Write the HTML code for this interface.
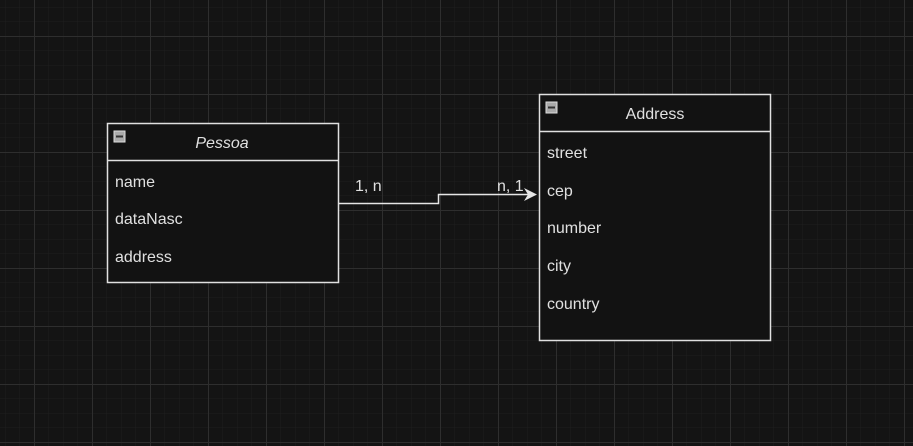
<!DOCTYPE html>
<html><head><style>
html,body{margin:0;padding:0;background:#141414;}
svg{display:block}
text{font-family:"Liberation Sans",sans-serif;font-size:16px;fill:#e0e0e0}
</style></head><body>
<svg width="913" height="446" viewBox="0 0 913 446">
<defs>
<pattern id="minor" x="5" y="7" width="14.5" height="14.5" patternUnits="userSpaceOnUse">
<path d="M0 0H14.5M0 0V14.5" stroke="#1e1e1e" stroke-width="1" fill="none"/>
</pattern>
<pattern id="major" x="34" y="36" width="58" height="58" patternUnits="userSpaceOnUse">
<path d="M0 0.5H58M0.5 0V58" stroke="#2e2e2e" stroke-width="1" fill="none"/>
</pattern>
</defs>
<rect width="913" height="446" fill="#141414"/>
<rect width="913" height="446" fill="url(#minor)"/>
<rect width="913" height="446" fill="url(#major)"/>

<rect x="107.5" y="123.5" width="231" height="159" fill="#121212" stroke="#e0e0e0" stroke-width="1.5"/>
<line x1="107" y1="160.5" x2="339" y2="160.5" stroke="#e0e0e0" stroke-width="1.5"/>
<rect x="114" y="131" width="11" height="11" fill="#aaa" stroke="#ddd" stroke-width="1"/>
<line x1="116" y1="136.5" x2="123" y2="136.5" stroke="#333" stroke-width="2"/>
<text x="222" y="148" text-anchor="middle" font-style="italic">Pessoa</text>
<text x="115" y="187">name</text>
<text x="115" y="224">dataNasc</text>
<text x="115" y="262">address</text>

<rect x="539.5" y="94.5" width="231" height="246" fill="#121212" stroke="#e0e0e0" stroke-width="1.5"/>
<line x1="539" y1="131.5" x2="771" y2="131.5" stroke="#e0e0e0" stroke-width="1.5"/>
<rect x="546" y="102" width="11" height="11" fill="#aaa" stroke="#ddd" stroke-width="1"/>
<line x1="548" y1="107.5" x2="555" y2="107.5" stroke="#333" stroke-width="2"/>
<text x="655" y="119" text-anchor="middle">Address</text>
<text x="547" y="158">street</text>
<text x="547" y="196">cep</text>
<text x="547" y="233">number</text>
<text x="547" y="271">city</text>
<text x="547" y="309">country</text>

<polyline points="339,203.5 438.5,203.5 438.5,194.5 530,194.5" fill="none" stroke="#e6e6e6" stroke-width="1.5"/>
<path d="M537,194.5 L524,188 L528,194.5 L524,201 Z" fill="#e6e6e6"/>
<text x="355" y="191">1, n</text>
<text x="497" y="191">n, 1</text>
</svg>
</body></html>
